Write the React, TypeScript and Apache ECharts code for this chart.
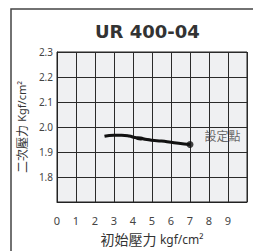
import React, { useEffect, useRef } from "react";
import * as echarts from "echarts";

const titleText = "UR 400-04";
const xTicks = [0, 1, 2, 3, 4, 5, 6, 7, 8, 9];
const yTicks = [1.8, 1.9, 2.0, 2.1, 2.2, 2.3];
const mainX = [2.5, 3.0, 3.4, 3.8, 4.1, 4.4, 4.65, 5.0, 5.5, 6.0, 6.4, 7.0];
const mainY = [1.963, 1.967, 1.967, 1.964, 1.958, 1.956, 1.951, 1.947, 1.944, 1.939, 1.935, 1.93];
const loopX = [4.1, 4.4, 4.65, 5.0];
const loopY = [1.958, 1.95, 1.951, 1.947];
const setPoint = [7.0, 1.93];
const setPointLabel = "設定點";
const xName = "初始壓力";
const yName = "二次壓力";
const unit = "kgf/cm²";
const yUnit = "Kgf/cm²";

export default function App() {
  const ref = useRef<HTMLDivElement>(null);
  useEffect(() => {
    document.body.style.margin = "0";
    const chart = echarts.init(ref.current!, null, { renderer: "svg" });
    chart.setOption({
      animation: false,
      backgroundColor: "#ffffff",
      title: {
        text: titleText,
        left: 95,
        top: 22,
        padding: 0,
        textStyle: { fontFamily: "DejaVu Sans", fontWeight: "bold", fontSize: 18, color: "#333" },
      },
      graphic: [
        {
          type: "rect",
          shape: { x: 11, y: 9, width: 300, height: 300 },
          style: { fill: "none", stroke: "#444", lineWidth: 1.5 },
          z: -1,
        },
      ],
      grid: {
        left: 57,
        right: 6,
        top: 52,
        bottom: 46,
        show: true,
        backgroundColor: "#eff0f2",
        borderColor: "#222",
        borderWidth: 1,
      },
      xAxis: {
        type: "value",
        min: 0,
        max: 10,
        interval: 1,
        name: `{a|${xName}} {b|${unit}}`,
        nameLocation: "middle",
        nameGap: 30,
        nameTextStyle: {
          color: "#333",
          rich: {
            a: { fontFamily: "Noto Sans CJK TC", fontSize: 14, color: "#333" },
            b: { fontFamily: "Noto Sans", fontSize: 12, color: "#333" },
          },
        },
        axisLine: { show: true, lineStyle: { color: "#222", width: 1 } },
        axisTick: { show: false },
        axisLabel: {
          margin: 13,
          fontSize: 11,
          fontFamily: "Noto Sans",
          color: "#444",
          formatter: (v: number) => (xTicks.includes(v) ? String(v) : ""),
        },
        splitLine: { show: true, lineStyle: { color: "#2a2a2a", width: 1 } },
      },
      yAxis: {
        type: "value",
        min: 1.7,
        max: 2.3,
        interval: 0.1,
        name: `{a|${yName}} {b|${yUnit}}`,
        nameLocation: "middle",
        nameGap: 25,
        nameTextStyle: {
          color: "#333",
          rich: {
            a: { fontFamily: "Noto Sans CJK TC", fontSize: 12, color: "#333" },
            b: { fontFamily: "Noto Sans", fontSize: 11, color: "#333" },
          },
        },
        axisLine: { show: true, lineStyle: { color: "#222", width: 1 } },
        axisTick: { show: false },
        axisLabel: {
          margin: 4,
          fontSize: 10,
          fontFamily: "Noto Sans",
          color: "#444",
          formatter: (v: number) => {
            const r = Math.round(v * 10) / 10;
            return yTicks.some((t) => Math.abs(t - r) < 1e-6) ? r.toFixed(1) : "";
          },
        },
        splitLine: { show: true, lineStyle: { color: "#2a2a2a", width: 1 } },
      },
      series: [
        {
          type: "line",
          data: mainX.map((x, i) => [x, mainY[i]]),
          smooth: true,
          symbol: "none",
          lineStyle: { color: "#111", width: 3 },
        },
        {
          type: "line",
          data: loopX.map((x, i) => [x, loopY[i]]),
          smooth: true,
          symbol: "none",
          lineStyle: { color: "#111", width: 2 },
        },
        {
          type: "scatter",
          data: [setPoint],
          symbolSize: 7,
          itemStyle: { color: "#111" },
          label: {
            show: true,
            position: "right",
            offset: [6, -9],
            formatter: setPointLabel,
            fontFamily: "Noto Sans CJK TC",
            fontSize: 12,
            color: "#444",
          },
        },
      ],
    });
    return () => chart.dispose();
  }, []);
  return <div ref={ref} style={{ width: 253, height: 251 }} />;
}
